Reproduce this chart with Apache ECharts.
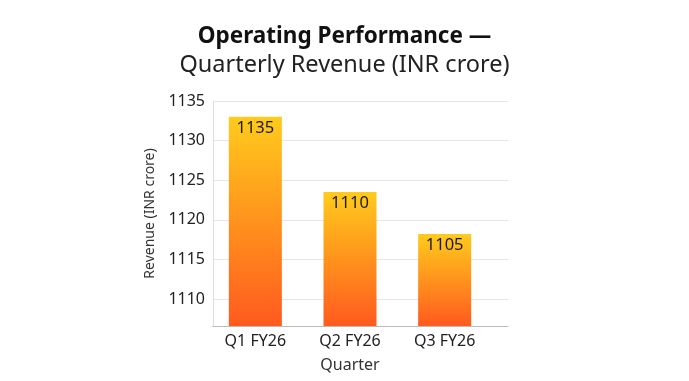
<!DOCTYPE html>
<html><head><meta charset="utf-8">
<script src="https://cdn.jsdelivr.net/npm/echarts@6/dist/echarts.min.js"></script>
<style>html,body{margin:0;padding:0;background:#fff}#c{width:689px;height:381px}</style>
</head><body><div id="c"></div>
<script>
const categories = ['Q1 FY26', 'Q2 FY26', 'Q3 FY26'];
const barValues = [1133.0, 1123.5, 1118.2];
const barLabels = ['1135', '1110', '1105'];
const yTicks = [1110, 1115, 1120, 1125, 1130, 1135];
const yMin = 1106.6, yMax = 1135;

const FONT = 'Noto Sans';
const chart = echarts.init(document.getElementById('c'), null, {renderer: 'canvas'});
chart.setOption({
  backgroundColor: '#fff',
  animation: false,
  title: {
    text: 'Operating Performance —',
    subtext: 'Quarterly Revenue (INR crore)',
    left: 'center', top: 20, itemGap: 5,
    textStyle: {fontFamily: FONT, fontSize: 22.5, fontWeight: 'bold', color: '#111'},
    subtextStyle: {fontFamily: FONT, fontSize: 23.5, fontWeight: 'normal', color: '#222'}
  },
  grid: [
    {left: 213, right: 181, top: 101, bottom: 55},
    {left: 208, right: 197, top: 101, bottom: 55}
  ],
  xAxis: [{
    gridIndex: 0, type: 'category', data: categories,
    axisLine: {lineStyle: {color: '#bbb'}},
    axisTick: {show: false},
    axisLabel: {show: false}
  }, {
    gridIndex: 1, type: 'category', data: categories,
    name: 'Quarter', nameLocation: 'middle', nameGap: 31,
    nameTextStyle: {fontFamily: FONT, fontSize: 16, color: '#333'},
    axisLine: {show: false},
    axisTick: {show: false},
    axisLabel: {fontFamily: FONT, fontSize: 16, color: '#222', margin: 7}
  }],
  yAxis: [{
    gridIndex: 0, type: 'value', min: yMin, max: yMax,
    name: 'Revenue (INR crore)', nameLocation: 'middle', nameGap: 56,
    nameTextStyle: {fontFamily: FONT, fontSize: 14, color: '#333'},
    axisLine: {show: true, lineStyle: {color: '#ddd'}},
    axisTick: {show: false, customValues: yTicks},
    axisLabel: {fontFamily: FONT, fontSize: 16, color: '#222', margin: 8,
      customValues: yTicks, formatter: v => String(v)},
    splitLine: {show: true, lineStyle: {color: '#e6e6e6'}}
  }, {
    gridIndex: 1, type: 'value', min: yMin, max: yMax, show: false
  }],
  series: [{
    type: 'bar', xAxisIndex: 1, yAxisIndex: 1, data: barValues, barWidth: '56%',
    itemStyle: {color: new echarts.graphic.LinearGradient(0, 0, 0, 1, [
      {offset: 0, color: '#FFCB1C'}, {offset: 1, color: '#FF5A1E'}])},
    label: {show: true, position: 'insideTop', distance: 3,
      fontFamily: FONT, fontSize: 16.5, color: '#1a1a1a',
      formatter: p => barLabels[p.dataIndex]}
  }]
});
</script></body></html>
